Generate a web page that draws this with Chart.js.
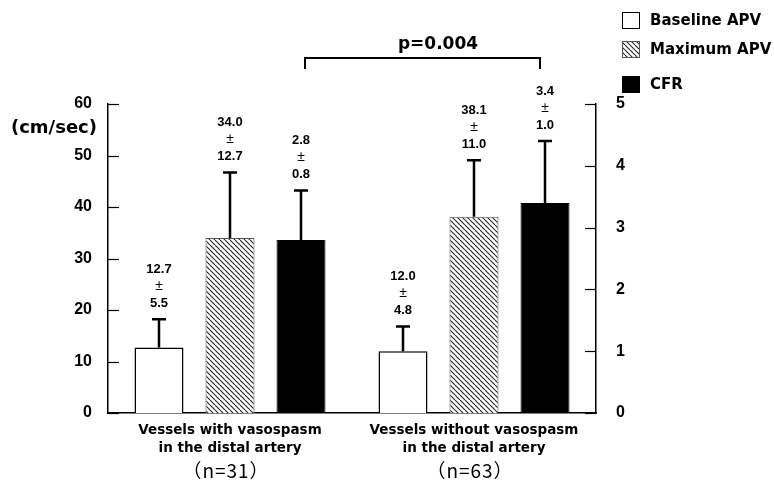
<!DOCTYPE html>
<html>
<head>
<meta charset="utf-8">
<script src="https://cdn.jsdelivr.net/npm/chart.js@4.4.0/dist/chart.umd.min.js"></script>
<style>
html, body { margin: 0; background: #fff; }
</style>
</head>
<body>
<canvas id="c" width="774" height="489"></canvas>
<script>
const groups = [['Vessels with vasospasm', 'in the distal artery'], ['Vessels without vasospasm', 'in the distal artery']];
const groupN = ['（n=31）', '（n=63）'];
const baselineApv = [12.7, 12.0];
const baselineSd = [5.5, 4.8];
const maximumApv = [34.0, 38.1];
const maximumSd = [12.7, 11.0];
const cfr = [2.8, 3.4];
const cfrSd = [0.8, 1.0];
const leftTicks = [0, 10, 20, 30, 40, 50, 60];
const rightTicks = [0, 1, 2, 3, 4, 5];
const leftUnit = '(cm/sec)';
const pText = 'p=0.004';

const WIDE = '"DejaVu Sans", sans-serif';
const HELV = '"Liberation Sans", Arial, sans-serif';
const canvas = document.getElementById('c');
const mainCtx = canvas.getContext('2d');

// diagonal hatching for Maximum APV
function makeHatch() {
    const n = 5;
    const tile = document.createElement('canvas');
    tile.width = tile.height = n;
    const g = tile.getContext('2d');
    g.fillStyle = '#fff';
    g.fillRect(0, 0, n, n);
    g.strokeStyle = '#222';
    g.lineWidth = 1.1;
    [-n, 0, n].forEach(k => { g.beginPath(); g.moveTo(k, 0); g.lineTo(k + n, n); g.stroke(); });
    return mainCtx.createPattern(tile, 'repeat');
}
const hatch = makeHatch();

const extras = {
    id: 'extras',
    afterDatasetsDraw(chart) {
        const { ctx, chartArea, scales } = chart;
        ctx.save();
        ctx.strokeStyle = '#000';
        ctx.fillStyle = '#000';

        // inward tick marks
        ctx.lineWidth = 1.2;
        scales.y.ticks.forEach(t => {
            const py = Math.round(scales.y.getPixelForValue(t.value)) + 0.5;
            ctx.beginPath(); ctx.moveTo(chartArea.left, py); ctx.lineTo(chartArea.left + 11, py); ctx.stroke();
        });
        scales.y1.ticks.forEach(t => {
            const py = Math.round(scales.y1.getPixelForValue(t.value)) + 0.5;
            ctx.beginPath(); ctx.moveTo(chartArea.right, py); ctx.lineTo(chartArea.right - 11, py); ctx.stroke();
        });

        // error bars with mean ± sd labels
        ctx.textAlign = 'center';
        ctx.textBaseline = 'middle';
        chart.data.datasets.forEach((ds, di) => {
            const ys = scales[ds.yAxisID];
            chart.getDatasetMeta(di).data.forEach((bar, i) => {
                const top = ys.getPixelForValue(ds.data[i] + ds.sd[i]);
                ctx.lineWidth = 2.5;
                ctx.beginPath();
                ctx.moveTo(bar.x, bar.y); ctx.lineTo(bar.x, top);
                ctx.moveTo(bar.x - 7, top); ctx.lineTo(bar.x + 7, top);
                ctx.stroke();
                ctx.font = 'bold 13px ' + HELV;
                ctx.fillText(ds.data[i].toFixed(1), bar.x, top - 50);
                ctx.fillText(ds.sd[i].toFixed(1), bar.x, top - 16);
                ctx.font = '14px ' + HELV;
                ctx.fillText('±', bar.x, top - 33);
            });
        });

        // significance bracket between CFR bars
        const cfrBars = chart.getDatasetMeta(2).data;
        const x1 = cfrBars[0].x + 4, x2 = cfrBars[1].x - 5;
        ctx.lineWidth = 2;
        ctx.beginPath();
        ctx.moveTo(x1, 69); ctx.lineTo(x1, 58); ctx.lineTo(x2, 58); ctx.lineTo(x2, 69);
        ctx.stroke();
        ctx.font = 'bold 17px ' + WIDE;
        ctx.fillText(pText, 438, 45);

        // group sizes under category labels
        ctx.font = '19px "Noto Sans CJK JP", sans-serif';
        ctx.letterSpacing = '1px';
        groupN.forEach((t, i) => ctx.fillText(t, scales.x.getPixelForValue(i) - 4, 471));
        ctx.letterSpacing = '0px';

        // left unit label
        ctx.textAlign = 'right';
        ctx.font = 'bold 18px ' + WIDE;
        ctx.fillText(leftUnit, 97, 128);

        // legend
        ctx.textAlign = 'left';
        ctx.font = 'bold 15px ' + WIDE;
        const rows = [20, 49, 84];
        chart.data.datasets.forEach((ds, di) => {
            const y = rows[di];
            ctx.fillStyle = ds.backgroundColor;
            ctx.fillRect(622, y - 8, 18, 17);
            ctx.lineWidth = 1;
            ctx.strokeStyle = ds.borderColor;
            ctx.strokeRect(622.5, y - 7.5, 17, 16);
            ctx.fillStyle = '#000';
            ctx.fillText(ds.label, 650, y + 1);
        });
        ctx.restore();
    }
};

new Chart(canvas, {
    type: 'bar',
    data: {
        labels: groups,
        datasets: [
            { label: 'Baseline APV', data: baselineApv, sd: baselineSd, yAxisID: 'y', backgroundColor: '#fff', borderColor: '#000', borderWidth: 1.5 },
            { label: 'Maximum APV', data: maximumApv, sd: maximumSd, yAxisID: 'y', backgroundColor: hatch, borderColor: '#555', borderWidth: 1 },
            { label: 'CFR', data: cfr, sd: cfrSd, yAxisID: 'y1', backgroundColor: '#000', borderColor: '#000', borderWidth: 1 }
        ]
    },
    options: {
        responsive: false,
        animation: false,
        layout: { padding: { top: 104, left: 0, right: 0, bottom: 0 } },
        barPercentage: 0.69,
        categoryPercentage: 0.873,
        plugins: { legend: { display: false }, tooltip: { enabled: false } },
        scales: {
            x: {
                grid: { display: false, drawTicks: false },
                border: { display: true, color: '#000', width: 1.5 },
                ticks: { color: '#000', padding: 9, font: { family: WIDE, size: 13.5, weight: 'bold', lineHeight: 1.3 } },
                afterFit: s => { s.height = 76; }
            },
            y: {
                position: 'left',
                min: 0, max: 60,
                afterBuildTicks: s => { s.ticks = leftTicks.map(v => ({ value: v })); },
                grid: { display: false, drawTicks: false },
                border: { display: true, color: '#000', width: 1.5 },
                ticks: { color: '#000', padding: 16, font: { family: HELV, size: 16, weight: 'bold' } },
                afterFit: s => { s.width = 108; }
            },
            y1: {
                position: 'right',
                min: 0, max: 5,
                afterBuildTicks: s => { s.ticks = rightTicks.map(v => ({ value: v })); },
                grid: { display: false, drawTicks: false },
                border: { display: true, color: '#000', width: 1.5 },
                ticks: { color: '#000', padding: 20, font: { family: HELV, size: 16, weight: 'bold' } },
                afterFit: s => { s.width = 178; }
            }
        }
    },
    plugins: [extras]
});
</script>
</body>
</html>
